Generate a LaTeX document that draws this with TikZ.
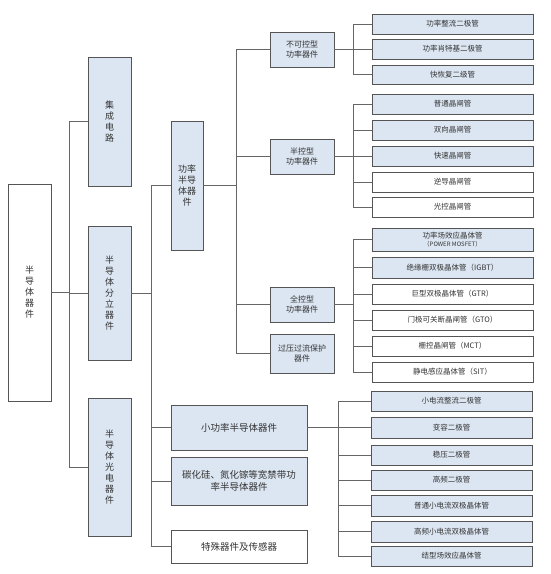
\documentclass[tikz,border=0pt]{standalone}
\usepackage{fontspec}
\setmainfont{Noto Sans CJK SC}
\definecolor{bluef}{HTML}{DCE6F2}
\definecolor{bordc}{HTML}{555555}
\definecolor{linec}{HTML}{666666}
\tikzset{
  bx/.style={draw=bordc, line width=0.9pt, fill=bluef, inner sep=0pt, align=center, text=black!80},
  wbx/.style={bx, fill=white},
  conn/.style={draw=linec, line width=0.9pt},
  fv/.style={font=\fontsize{9}{11}\selectfont},
  fm/.style={font=\fontsize{9.5}{12}\selectfont},
  fl4/.style={font=\fontsize{8}{10}\selectfont},
  fs/.style={font=\fontsize{7.5}{9}\selectfont},
}
\newcommand{\mkbox}[7]{%
  \node[#6, minimum width={#4-#2}, minimum height={#5-#3}] (#1) at ({(#2+#4)/2},{(#3+#5)/2}) {#7};}
\begin{document}
\begin{tikzpicture}[x=1pt,y=-1pt]
\useasboundingbox (0,0) rectangle (550,574);
% level 1
\mkbox{root}{8}{184}{51}{401}{wbx,fv}{半\\导\\体\\器\\件}
% level 2
\mkbox{ic}{88}{57}{131}{186}{bx,fv}{集\\成\\电\\路}
\mkbox{disc}{88}{226}{131}{360}{bx,fv}{半\\导\\体\\分\\立\\器\\件}
\mkbox{opto}{88}{398}{131}{536}{bx,fv}{半\\导\\体\\光\\电\\器\\件}
% level 3
\mkbox{pwr}{171}{121}{203}{250}{bx,fv}{功率\\半导\\体器\\件}
\mkbox{small}{171}{405}{307}{450}{bx,fm}{小功率半导体器件}
\mkbox{wide}{171}{457}{307}{505}{bx,fm}{碳化硅、氮化镓等宽禁带功\\率半导体器件}
\mkbox{spec}{171}{530}{307}{563}{wbx,fm}{特殊器件及传感器}
% level 4
\mkbox{unc}{270}{32}{334}{67}{bx,fl4}{不可控型\\功率器件}
\mkbox{semi}{270}{139}{334}{174}{bx,fl4}{半控型\\功率器件}
\mkbox{full}{270}{287}{334}{322}{bx,fl4}{全控型\\功率器件}
\mkbox{prot}{270}{334}{334}{373}{bx,fl4}{过压过流保护\\器件}
% level 5 groups
\mkbox{a1}{372}{14}{533}{34}{bx,fs}{功率整流二极管}
\mkbox{a2}{372}{39}{533}{59}{bx,fs}{功率肖特基二极管}
\mkbox{a3}{372}{65}{533}{84}{bx,fs}{快恢复二级管}
\mkbox{b1}{372}{94}{533}{114}{bx,fs}{普通晶闸管}
\mkbox{b2}{372}{120}{533}{140}{bx,fs}{双向晶闸管}
\mkbox{b3}{372}{146}{533}{166}{bx,fs}{快速晶闸管}
\mkbox{b4}{372}{172}{533}{192}{wbx,fs}{逆导晶闸管}
\mkbox{b5}{372}{197}{533}{217}{wbx,fs}{光控晶闸管}
\mkbox{c1}{372}{228}{533}{251}{bx,font=\fontsize{7.5}{8.5}\selectfont}{功率场效应晶体管\\{\fontsize{6}{7}\selectfont （POWER MOSFET）}}
\mkbox{c2}{372}{257}{533}{278}{bx,fs}{绝缘栅双极晶体管（IGBT）}
\mkbox{c3}{372}{284}{533}{304}{wbx,fs}{巨型双极晶体管（GTR）}
\mkbox{c4}{372}{310}{533}{330}{wbx,fs}{门极可关断晶闸管（GTO）}
\mkbox{c5}{372}{336}{533}{356}{wbx,fs}{栅控晶闸管（MCT）}
\mkbox{c6}{372}{362}{533}{382}{wbx,fs}{静电感应晶体管（SIT）}
\mkbox{d1}{371}{391}{532}{411}{bx,fs}{小电流整流二极管}
\mkbox{d2}{371}{417}{532}{438}{bx,fs}{变容二极管}
\mkbox{d3}{371}{445}{532}{465}{bx,fs}{稳压二极管}
\mkbox{d4}{371}{470}{532}{490}{bx,fs}{高频二极管}
\mkbox{d5}{371}{495}{532}{516}{bx,fs}{普通小电流双极晶体管}
\mkbox{d6}{371}{521}{532}{542}{bx,fs}{高频小电流双极晶体管}
\mkbox{d7}{371}{546}{532}{566}{bx,fs}{结型场效应晶体管}
% bus coordinates
\coordinate (x1) at (69,0);
\coordinate (x2) at (151,0);
\coordinate (x3) at (236,0);
\coordinate (x4) at (353,0);
\coordinate (x5) at (338,0);
% connectors level1 -> level2
\draw[conn] (root.east) -- (root.east -| x1);
\draw[conn] (ic.west -| x1) -- (opto.west -| x1);
\foreach \n in {ic,disc,opto} \draw[conn] (\n.west -| x1) -- (\n.west);
% level2 -> level3
\draw[conn] (disc.east) -- (disc.east -| x2);
\draw[conn] (pwr.west -| x2) -- (spec.west -| x2);
\foreach \n in {pwr,small,wide,spec} \draw[conn] (\n.west -| x2) -- (\n.west);
% level3 -> level4
\draw[conn] (pwr.east) -- (pwr.east -| x3);
\draw[conn] (unc.west -| x3) -- (prot.west -| x3);
\foreach \n in {unc,semi,full,prot} \draw[conn] (\n.west -| x3) -- (\n.west);
% level4 -> level5
\draw[conn] (unc.east) -- (unc.east -| x4);
\draw[conn] (a1.west -| x4) -- (a3.west -| x4);
\foreach \n in {a1,a2,a3} \draw[conn] (\n.west -| x4) -- (\n.west);
\draw[conn] (semi.east) -- (semi.east -| x4);
\draw[conn] (b1.west -| x4) -- (b5.west -| x4);
\foreach \n in {b1,b2,b3,b4,b5} \draw[conn] (\n.west -| x4) -- (\n.west);
\draw[conn] (full.east) -- (full.east -| x4);
\draw[conn] (c1.west -| x4) -- (c6.west -| x4);
\foreach \n in {c1,c2,c3,c4,c5,c6} \draw[conn] (\n.west -| x4) -- (\n.west);
\draw[conn] (small.east) -- (small.east -| x5);
\draw[conn] (d1.west -| x5) -- (d7.west -| x5);
\foreach \n in {d1,d2,d3,d4,d5,d6,d7} \draw[conn] (\n.west -| x5) -- (\n.west);
\end{tikzpicture}
\end{document}
